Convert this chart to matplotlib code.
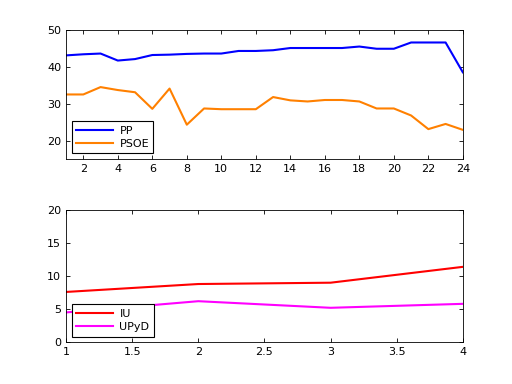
import matplotlib
matplotlib.use('Agg')
import matplotlib.pyplot as plt

# polls 1..24
x_top = list(range(1, 25))
pp = [43.1, 43.4, 43.6, 41.7, 42.1, 43.2, 43.3, 43.5, 43.6, 43.6, 44.3, 44.3,
      44.5, 45.1, 45.1, 45.1, 45.1, 45.5, 44.9, 44.9, 46.6, 46.6, 46.6, 38.5]
psoe = [32.5, 32.5, 34.5, 33.7, 33.1, 28.6, 34.1, 24.3, 28.7, 28.5, 28.5, 28.5,
        31.8, 30.9, 30.6, 31.0, 31.0, 30.6, 28.7, 28.7, 26.8, 23.1, 24.5, 22.9]

x_bot = [1, 2, 3, 4]
iu = [7.6, 8.8, 9.0, 11.4]
upyd = [4.5, 6.2, 5.2, 5.8]

plt.rcParams['font.size'] = 8

fig = plt.figure(figsize=(5.12, 3.84), dpi=100)
ax1 = fig.add_axes([0.129, 0.586, 0.775, 0.336])
ax2 = fig.add_axes([0.129, 0.109, 0.775, 0.344])

ax1.plot(x_top, pp, color=(0, 0, 1), lw=1.5, label='PP')
ax1.plot(x_top, psoe, color=(1, 0.5, 0), lw=1.5, label='PSOE')
ax1.set_xlim(1, 24)
ax1.set_ylim(15, 50)
ax1.set_xticks(range(2, 25, 2))
ax1.set_yticks([20, 30, 40, 50])

ax2.plot(x_bot, iu, color=(1, 0, 0), lw=1.5, label='IU')
ax2.plot(x_bot, upyd, color=(1, 0, 1), lw=1.5, label='UPyD')
ax2.set_xlim(1, 4)
ax2.set_ylim(0, 20)
ax2.set_xticks([1, 1.5, 2, 2.5, 3, 3.5, 4])
ax2.set_xticklabels(['1', '1.5', '2', '2.5', '3', '3.5', '4'])
ax2.set_yticks([0, 5, 10, 15, 20])

for ax in (ax1, ax2):
    ax.tick_params(direction='in', top=True, right=True, length=3, width=0.6, labelsize=8)
    for s in ax.spines.values():
        s.set_linewidth(0.6)
    leg = ax.legend(loc='lower left', handlelength=3.3, fancybox=False, framealpha=1,
                    edgecolor='black', fontsize=8, borderaxespad=0.5,
                    handletextpad=0.6, labelspacing=0.3, borderpad=0.4)
    leg.get_frame().set_linewidth(0.8)

fig.savefig('out.png', dpi=100)
